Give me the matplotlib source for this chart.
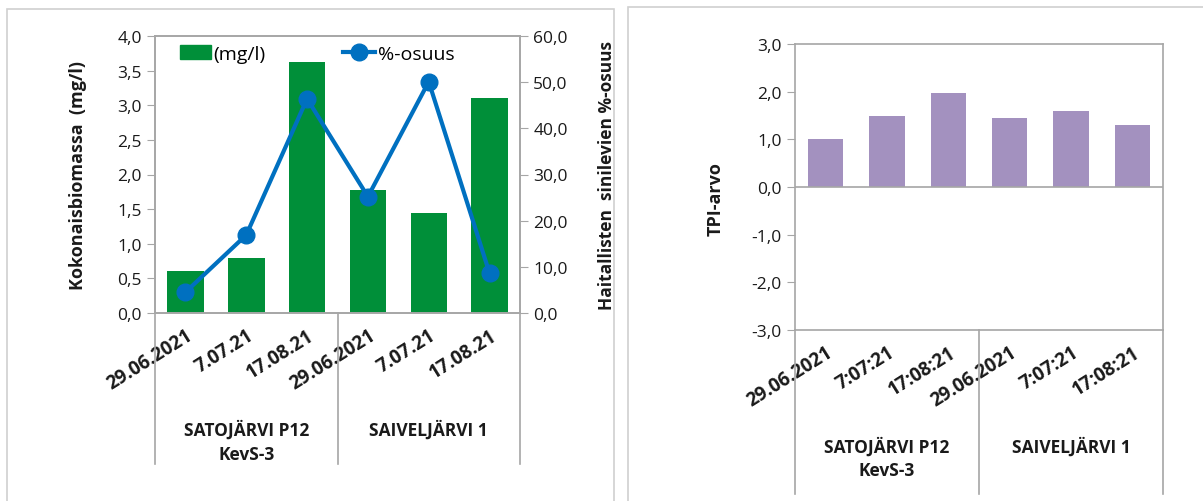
import matplotlib.pyplot as plt
from matplotlib.ticker import FuncFormatter, MultipleLocator
from matplotlib.lines import Line2D
from matplotlib.patches import Patch, Rectangle
import matplotlib.transforms as mtransforms

plt.rcParams['font.family'] = ['Open Sans', 'DejaVu Sans']

dates_left = ['29.06.2021', '7.07.21', '17.08.21', '29.06.2021', '7.07.21', '17.08.21']
dates_right = ['29.06.2021', '7:07:21', '17:08:21', '29.06.2021', '7:07:21', '17:08:21']
lakes = ['SATOJÄRVI P12\nKevS-3', 'SAIVELJÄRVI 1']
biomass = [0.60, 0.80, 3.62, 1.78, 1.45, 3.10]
share = [4.5, 16.9, 46.4, 25.2, 50.1, 8.6]
tpi = [1.0, 1.48, 1.98, 1.44, 1.6, 1.3]

GREEN = '#008F39'
BLUE = '#0070C0'
PURPLE = '#A391BF'
SPINE = '#A6A6A6'
TXT = '#1a1a1a'

comma = FuncFormatter(lambda v, p: f'{v:.1f}'.replace('.', ','))

fig = plt.figure(figsize=(12.03, 5.02), dpi=100)

# panel frames
fig.patches.append(Rectangle((7 / 1203, -0.1), 607 / 1203, 1.1 - 10 / 502,
                             transform=fig.transFigure, fill=False,
                             edgecolor='#D0D0D0', lw=1.2))
fig.patches.append(Rectangle((628 / 1203, -0.1), 600 / 1203, 1.1 - 8 / 502,
                             transform=fig.transFigure, fill=False,
                             edgecolor='#D0D0D0', lw=1.2))


def style_axes(ax):
    for s in ax.spines.values():
        s.set_color(SPINE)
        s.set_linewidth(1.2)
    ax.tick_params(axis='y', direction='out', length=6, color=SPINE,
                   labelsize=12.5, labelcolor=TXT)
    ax.tick_params(axis='x', length=0, labelsize=13.5, labelcolor=TXT, pad=9)


def category_axis(ax, labels, lbl_y, line_bottom):
    x = range(len(labels))
    ax.set_xticks(list(x))
    ax.set_xticklabels(labels, rotation=32, ha='right', rotation_mode='anchor',
                       fontweight='bold')
    ax.set_xlim(-0.5, len(labels) - 0.5)
    trans = mtransforms.blended_transform_factory(ax.transData, ax.transAxes)
    for xv in (-0.5, 2.5, 5.5):
        ax.add_line(Line2D([xv, xv], [0, line_bottom], transform=trans,
                           color=SPINE, lw=1.2, clip_on=False))
    for i, name in enumerate(lakes):
        ax.text(1 + 3 * i, lbl_y, name, transform=trans, ha='center', va='top',
                fontsize=12.5, fontweight='bold', color=TXT, linespacing=1.4)


# left chart: biomass + share
ax = fig.add_axes([155 / 1203, 188 / 502, 365 / 1203, 277 / 502])
style_axes(ax)
x = range(len(biomass))
ax.bar(x, biomass, width=0.6, color=GREEN, zorder=2)
ax.set_ylim(0, 4)
ax.yaxis.set_major_locator(MultipleLocator(0.5))
ax.yaxis.set_major_formatter(comma)
ax.set_ylabel('Kokonaisbiomassa  (mg/l)', fontsize=13, fontweight='bold', color=TXT)
ax.yaxis.set_label_coords(-0.185, 0.5)
category_axis(ax, dates_left, -0.385, -0.545)

ax2 = ax.twinx()
style_axes(ax2)
ax2.plot(x, share, color=BLUE, lw=3, marker='o', markersize=12, zorder=3)
ax2.set_ylim(0, 60)
ax2.yaxis.set_major_locator(MultipleLocator(10))
ax2.yaxis.set_major_formatter(comma)
ax2.set_ylabel('Haitallisten  sinilevien %-osuus', fontsize=12.5, fontweight='bold',
               color=TXT, rotation=90)
ax2.yaxis.set_label_coords(1.215, 0.5)

handles = [Patch(color=GREEN),
           Line2D([], [], color=BLUE, lw=3, marker='o', markersize=12)]
ax.legend(handles, ['(mg/l)', '%-osuus'], loc='center left', ncol=2,
          bbox_to_anchor=(0.03, 0.935), frameon=False, fontsize=14,
          columnspacing=4.0, handlelength=1.6, handletextpad=0.15,
          borderpad=0.2)

# right chart: TPI
axr = fig.add_axes([795 / 1203, 171 / 502, 368 / 1203, 286 / 502])
style_axes(axr)
axr.bar(range(len(tpi)), tpi, width=0.58, color=PURPLE, zorder=2)
axr.set_ylim(-3, 3)
axr.yaxis.set_major_locator(MultipleLocator(1))
axr.yaxis.set_major_formatter(comma)
axr.axhline(0, color=SPINE, lw=1.2, zorder=3)
axr.set_ylabel('TPI-arvo', fontsize=13, fontweight='bold', color=TXT)
axr.yaxis.set_label_coords(-0.19, 0.46)
category_axis(axr, dates_right, -0.37, -0.573)

fig.savefig('out.png', dpi=100)
